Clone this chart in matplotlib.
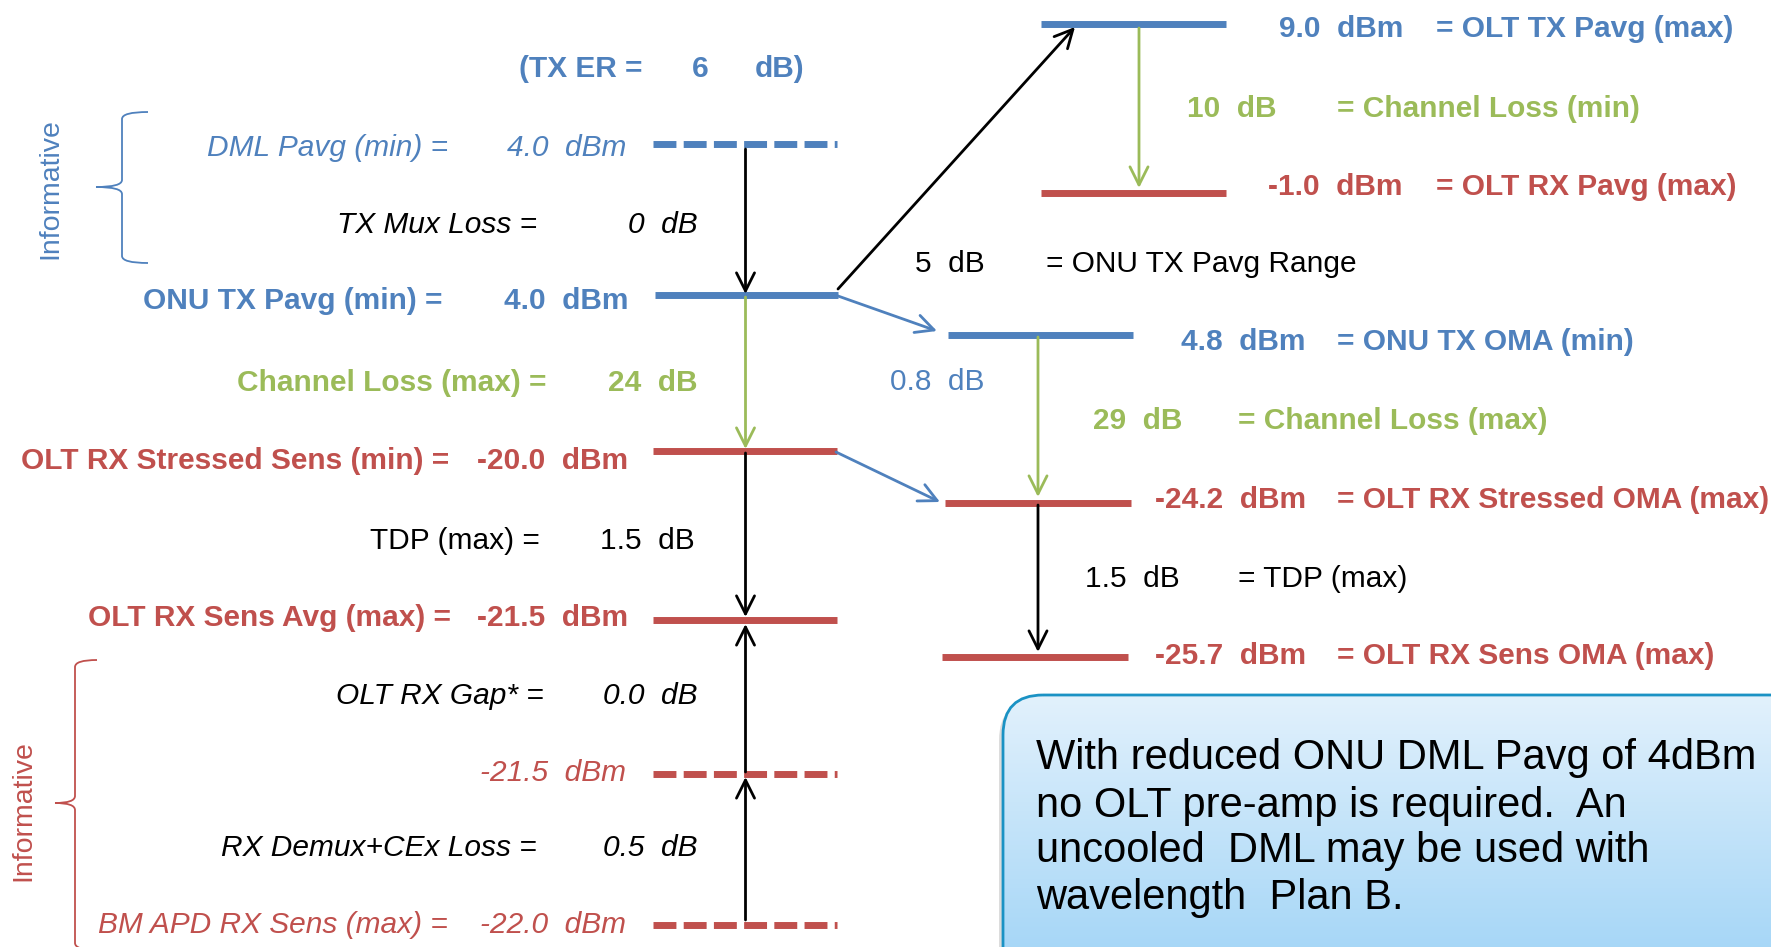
import numpy as np
import matplotlib
matplotlib.use("Agg")
import matplotlib.pyplot as plt
from matplotlib.patches import FancyBboxPatch, FancyArrowPatch, PathPatch, ArrowStyle
from matplotlib.path import Path

plt.rcParams['font.family'] = ['Liberation Sans', 'DejaVu Sans']

# ---------------- data ----------------
BLUE, RED, GREEN, BLACK = "#4F81BD", "#C0504D", "#9BBB59", "#000000"

# left column: labels and values
left_labels = ["DML Pavg (min) =", "TX Mux Loss =", "ONU TX Pavg (min) =", "Channel Loss (max) =",
               "OLT RX Stressed Sens (min) =", "TDP (max) =", "OLT RX Sens Avg (max) =",
               "OLT RX Gap* =", "", "RX Demux+CEx Loss =", "BM APD RX Sens (max) ="]
left_values = ["4.0  dBm", "0  dB", "4.0  dBm", "24  dB", "-20.0  dBm", "1.5  dB",
               "-21.5  dBm", "0.0  dB", "-21.5  dBm", "0.5  dB", "-22.0  dBm"]
left_colors = [BLUE, BLACK, BLUE, GREEN, RED, BLACK, RED, BLACK, RED, BLACK, RED]
left_weights = ["normal", "normal", "bold", "bold", "bold", "normal", "bold", "normal", "normal", "normal", "normal"]
left_styles = ["italic", "italic", "normal", "normal", "normal", "normal", "normal", "italic", "italic", "italic", "italic"]

# right column: values and labels
right_values = ["9.0  dBm", "10  dB", "-1.0  dBm", "5  dB", "4.8  dBm", "0.8  dB",
                "29  dB", "-24.2  dBm", "1.5  dB", "-25.7  dBm"]
right_labels = ["= OLT TX Pavg (max)", "= Channel Loss (min)", "= OLT RX Pavg (max)",
                "= ONU TX Pavg Range", "= ONU TX OMA (min)", "", "= Channel Loss (max)",
                "= OLT RX Stressed OMA (max)", "= TDP (max)", "= OLT RX Sens OMA (max)"]
right_colors = [BLUE, GREEN, RED, BLACK, BLUE, BLUE, GREEN, RED, BLACK, RED]
right_weights = ["bold", "bold", "bold", "normal", "bold", "normal", "bold", "bold", "normal", "bold"]

tx_er_parts = ["(TX ER =", "6", "dB)"]
note_lines = ["With reduced ONU DML Pavg of 4dBm", "no OLT pre-amp is required.  An",
              "uncooled  DML may be used with", "wavelength  Plan B."]

# ---------------- layout (pixel canvas) ----------------
W, H = 1771, 947
left_row_y = [145, 222, 298, 380, 458, 538, 615, 693, 770, 845, 922]
left_label_xr = [448, 537, 443, 546.5, 449, 539.6, 450.6, 544, 0, 536.7, 447.8]
left_value_xr = [626, 697.5, 628.6, 697.5, 628.6, 694.6, 628.6, 697.5, 625.7, 697.5, 625.7]

right_row_y = [26, 106, 184, 261, 339, 379, 418, 497, 576, 653]
right_value_xr = [1403, 1277, 1403, 985, 1306, 985, 1182, 1306, 1180, 1306]
right_label_xl = [1436, 1337, 1436, 1046, 1337, 0, 1238, 1337, 1238, 1337]

# level bars: (x0, x1, y, color, dashed)
levels = [(653, 837, 143.5, BLUE, True), (655, 838, 295, BLUE, False),
          (653, 837, 451, RED, False), (653, 837, 620, RED, False),
          (653, 837, 774, RED, True), (653, 837, 925, RED, True),
          (1041, 1226, 24, BLUE, False), (1041, 1226, 193, RED, False),
          (948, 1133, 335, BLUE, False), (945, 1131, 503, RED, False),
          (942, 1128, 657, RED, False)]

# arrows: (x0, y0, x1, y1, color)
arrows = [(745.5, 149, 745.5, 294, BLACK), (745.5, 297, 745.5, 449, GREEN),
          (745.5, 453, 745.5, 617, BLACK), (745.5, 772, 745.5, 624, BLACK),
          (745.5, 920, 745.5, 777, BLACK),
          (838, 289, 1075, 27, BLACK), (1139, 28, 1139, 188, GREEN),
          (838, 296, 937, 331, BLUE), (1038, 337, 1038, 497, GREEN),
          (836, 452, 940, 502, BLUE), (1038, 505, 1038, 652, BLACK)]

FS = 21.5

fig = plt.figure(figsize=(W / 100, H / 100), dpi=100)
ax = fig.add_axes([0, 0, 1, 1])


def txt(x, y, s, ha, color, weight="normal", style="normal", fs=FS, **kw):
    em = fs * 100 / 72.0
    ax.text(x, y + 0.358 * em, s, ha=ha, va="baseline", color=color, fontsize=fs,
            fontweight=weight, fontstyle=style, **kw)


# left texts
for i in range(len(left_values)):
    if left_labels[i]:
        txt(left_label_xr[i], left_row_y[i], left_labels[i], "right", left_colors[i],
            left_weights[i], left_styles[i])
    txt(left_value_xr[i], left_row_y[i], left_values[i], "right", left_colors[i],
        left_weights[i], left_styles[i])

# TX ER
txt(519.5, 66, tx_er_parts[0], "left", BLUE, "bold")
txt(700.5, 66, tx_er_parts[1], "center", BLUE, "bold")
txt(755, 66, tx_er_parts[2], "left", BLUE, "bold")

# right texts
for i in range(len(right_values)):
    txt(right_value_xr[i], right_row_y[i], right_values[i], "right", right_colors[i], right_weights[i])
    if right_labels[i]:
        txt(right_label_xl[i], right_row_y[i], right_labels[i], "left", right_colors[i], right_weights[i])

# level bars
LW = 5.0
for x0, x1, y, c, dashed in levels:
    if dashed:
        ax.plot([x0, x1], [y, y], color=c, lw=LW, solid_capstyle="butt",
                dash_capstyle="butt", dashes=(3.3, 1.05))
    else:
        ax.plot([x0, x1], [y, y], color=c, lw=LW, solid_capstyle="butt")

# arrows
style = ArrowStyle("->", head_length=13, head_width=6.5)
for x0, y0, x1, y1, c in arrows:
    ax.add_patch(FancyArrowPatch((x0, y0), (x1, y1), arrowstyle=style, mutation_scale=1,
                                 color=c, lw=2.0, shrinkA=0, shrinkB=0, zorder=3))


# braces
def brace(x_end, x_spine, x_tip, y_top, y_tip, y_bot, color, h=7):
    verts = [(x_end, y_top), (x_spine, y_top), (x_spine, y_top + h),
             (x_spine, y_tip - h), (x_spine, y_tip), (x_tip, y_tip),
             (x_spine, y_tip), (x_spine, y_tip + h),
             (x_spine, y_bot - h), (x_spine, y_bot), (x_end, y_bot)]
    codes = [Path.MOVETO, Path.CURVE3, Path.CURVE3, Path.LINETO, Path.CURVE3, Path.CURVE3,
             Path.CURVE3, Path.CURVE3, Path.LINETO, Path.CURVE3, Path.CURVE3]
    ax.add_patch(PathPatch(Path(verts, codes), fill=False, edgecolor=color, lw=1.3))


brace(148, 122, 96, 112, 187, 263, BLUE)
brace(97, 75, 55, 660, 803, 950, RED)
ax.text(50, 189, "Informative", rotation=90, ha="center", va="center", color=BLUE, fontsize=20.5)
ax.text(23, 811, "Informative", rotation=90, ha="center", va="center", color=RED, fontsize=20.5)

# note box with gradient
bx, by, bw, bh = 1003, 695, 900, 300
shadow = FancyBboxPatch((bx - 4, by + 5), bw, bh, boxstyle="round,pad=0,rounding_size=40",
                        facecolor="#BBBBBB", edgecolor="none", alpha=0.5, zorder=1)
ax.add_patch(shadow)
box = FancyBboxPatch((bx, by), bw, bh, boxstyle="round,pad=0,rounding_size=40",
                     facecolor="none", edgecolor="#1A92C4", lw=2.0, zorder=3)
ax.add_patch(box)
top_c = np.array([226, 241, 252]) / 255.0
bot_c = np.array([156, 210, 246]) / 255.0
t = np.linspace(0, 1, 256)[:, None]
grad = (top_c[None, :] * (1 - t) + bot_c[None, :] * t)[:, None, :]
im = ax.imshow(grad, extent=(bx, bx + bw, by + bh, by), aspect="auto", zorder=2)
clip = FancyBboxPatch((bx, by), bw, bh, boxstyle="round,pad=0,rounding_size=40",
                      facecolor="none", edgecolor="none", transform=ax.transData)
ax.add_patch(clip)
im.set_clip_path(clip)

note_y = [754, 802, 847, 894]
for yy, line in zip(note_y, note_lines):
    txt(1036, yy, line, "left", BLACK, fs=30.0, zorder=4)

ax.set_xlim(0, W)
ax.set_ylim(H, 0)
ax.axis("off")
fig.savefig("out.png", dpi=100)
